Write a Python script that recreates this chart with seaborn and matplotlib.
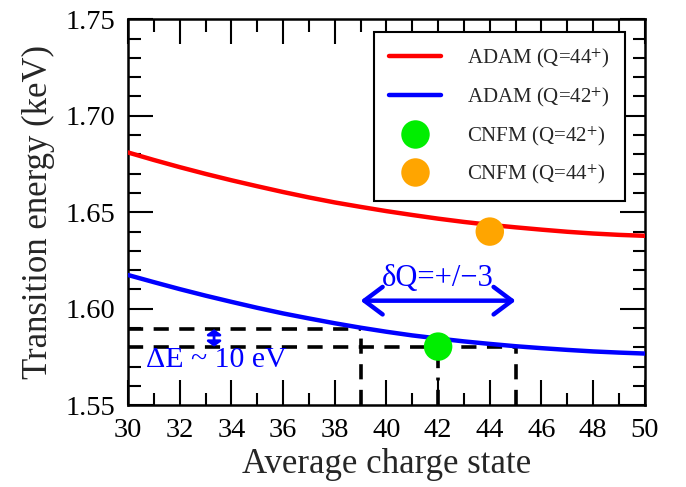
import numpy as np
import pandas as pd
import matplotlib
matplotlib.use("Agg")
import matplotlib.pyplot as plt
from matplotlib.ticker import MultipleLocator, FormatStrFormatter
import seaborn as sns

# ---- data ----
charge = [30, 31, 32, 33, 34, 35, 36, 37, 38, 39, 40,
          41, 42, 43, 44, 45, 46, 47, 48, 49, 50]
adam_q44 = [1.6810, 1.6771, 1.6734, 1.6699, 1.6666, 1.6635, 1.6605, 1.6577, 1.6551,
            1.6528, 1.6506, 1.6486, 1.6467, 1.6450, 1.6435, 1.6422, 1.6410, 1.6399,
            1.6390, 1.6383, 1.6378]
adam_q42 = [1.6175, 1.6138, 1.6102, 1.6068, 1.6036, 1.6005, 1.5976, 1.5950, 1.5925,
            1.5902, 1.5881, 1.5862, 1.5846, 1.5831, 1.5818, 1.5806, 1.5796, 1.5787,
            1.5779, 1.5773, 1.5768]
cnfm_q = [42, 44]
cnfm_e = [1.5804, 1.6400]
cnfm_labels = [r"CNFM (Q=42$^{+}$)", r"CNFM (Q=44$^{+}$)"]
line_labels = [r"ADAM (Q=44$^{+}$)", r"ADAM (Q=42$^{+}$)"]
e_upper = 1.5894
e_lower = 1.5804
q_left, q_mid, q_right = 39, 42, 45
de_arrow_q = 33.33
dq_arrow_e = 1.6042

sns.set_style("ticks")
plt.rcParams["font.family"] = ["Liberation Serif", "DejaVu Serif"]
plt.rcParams["mathtext.fontset"] = "stix"

fig = plt.figure(figsize=(6.86, 4.87), dpi=100)
ax = fig.add_axes([0.1866, 0.1678, 0.7534, 0.7926])

df_lines = pd.DataFrame({
    "q": charge * 2,
    "e": adam_q44 + adam_q42,
    "series": [line_labels[0]] * len(charge) + [line_labels[1]] * len(charge),
})
df_pts = pd.DataFrame({"q": cnfm_q, "e": cnfm_e, "series": cnfm_labels})

# dashed guide lines
dash = dict(color="black", lw=2.6, dashes=(4.2, 2.9), zorder=2)
ax.plot([30, q_left], [e_upper, e_upper], **dash)
ax.plot([30, q_right], [e_lower, e_lower], **dash)
ax.plot([q_left, q_left], [1.55, e_upper], **dash)
ax.plot([q_right, q_right], [1.55, e_lower], **dash)
ax.plot([q_mid, q_mid], [1.55, e_lower], color="black", lw=2.6,
        dashes=(4.2, 2.6, 0.8, 2.6), zorder=2)

sns.lineplot(data=df_lines, x="q", y="e", hue="series",
             palette={line_labels[0]: "#ff0000", line_labels[1]: "#0000ff"},
             lw=3.2, ax=ax, zorder=3)
sns.scatterplot(data=df_pts, x="q", y="e", hue="series",
                palette={cnfm_labels[0]: "#00ee00", cnfm_labels[1]: "#ffa500"},
                s=420, edgecolor="none", ax=ax, zorder=4)

# annotations
ax.annotate("", xy=(q_left, dq_arrow_e), xytext=(q_right, dq_arrow_e),
            arrowprops=dict(arrowstyle="<->,head_length=0.6,head_width=0.45",
                            color="#0000ff", lw=3.2, mutation_scale=22,
                            shrinkA=0, shrinkB=0))
ax.text(q_mid, 1.6082, "δQ=+/−3", color="#0000ff", fontsize=22,
        ha="center", va="bottom")
ax.annotate("", xy=(de_arrow_q, e_upper), xytext=(de_arrow_q, e_lower),
            arrowprops=dict(arrowstyle="<|-|>,head_length=0.5,head_width=0.7",
                            color="#0000ff", lw=2.0, mutation_scale=6,
                            shrinkA=0, shrinkB=0))
ax.text(30.7, 1.5735, "ΔE ~ 10 eV", color="#0000ff", fontsize=21.5,
        ha="left", va="center")

ax.set_xlim(30, 50)
ax.set_ylim(1.55, 1.75)
ax.xaxis.set_major_locator(MultipleLocator(2))
ax.xaxis.set_minor_locator(MultipleLocator(1))
ax.yaxis.set_major_locator(MultipleLocator(0.05))
ax.yaxis.set_minor_locator(MultipleLocator(0.01))
ax.yaxis.set_major_formatter(FormatStrFormatter("%.2f"))
ax.tick_params(which="both", direction="in", top=True, right=True,
               width=1.5, labelsize=20.5, colors="black")
ax.tick_params(which="major", length=18, pad=9)
ax.tick_params(which="minor", length=9)
for sp in ax.spines.values():
    sp.set_visible(True)
    sp.set_linewidth(1.8)
    sp.set_color("black")

ax.set_xlabel("Average charge state", fontsize=25, labelpad=4)
ax.set_ylabel("Transition energy (keV)", fontsize=25, labelpad=8)

handles, labels = ax.get_legend_handles_labels()
order = [line_labels[0], line_labels[1], cnfm_labels[0], cnfm_labels[1]]
hmap = dict(zip(labels, handles))
leg = ax.legend([hmap[k] for k in order], order, loc="upper right",
                bbox_to_anchor=(0.961, 0.967), borderaxespad=0,
                fontsize=15, frameon=True, fancybox=False, shadow=False,
                handlelength=2.5, handletextpad=1.25, labelspacing=0.72,
                borderpad=0.7, markerscale=1.0)
leg.get_frame().set_edgecolor("black")
leg.get_frame().set_linewidth(1.5)
leg.get_frame().set_alpha(1)

fig.savefig("out.png", dpi=100)
